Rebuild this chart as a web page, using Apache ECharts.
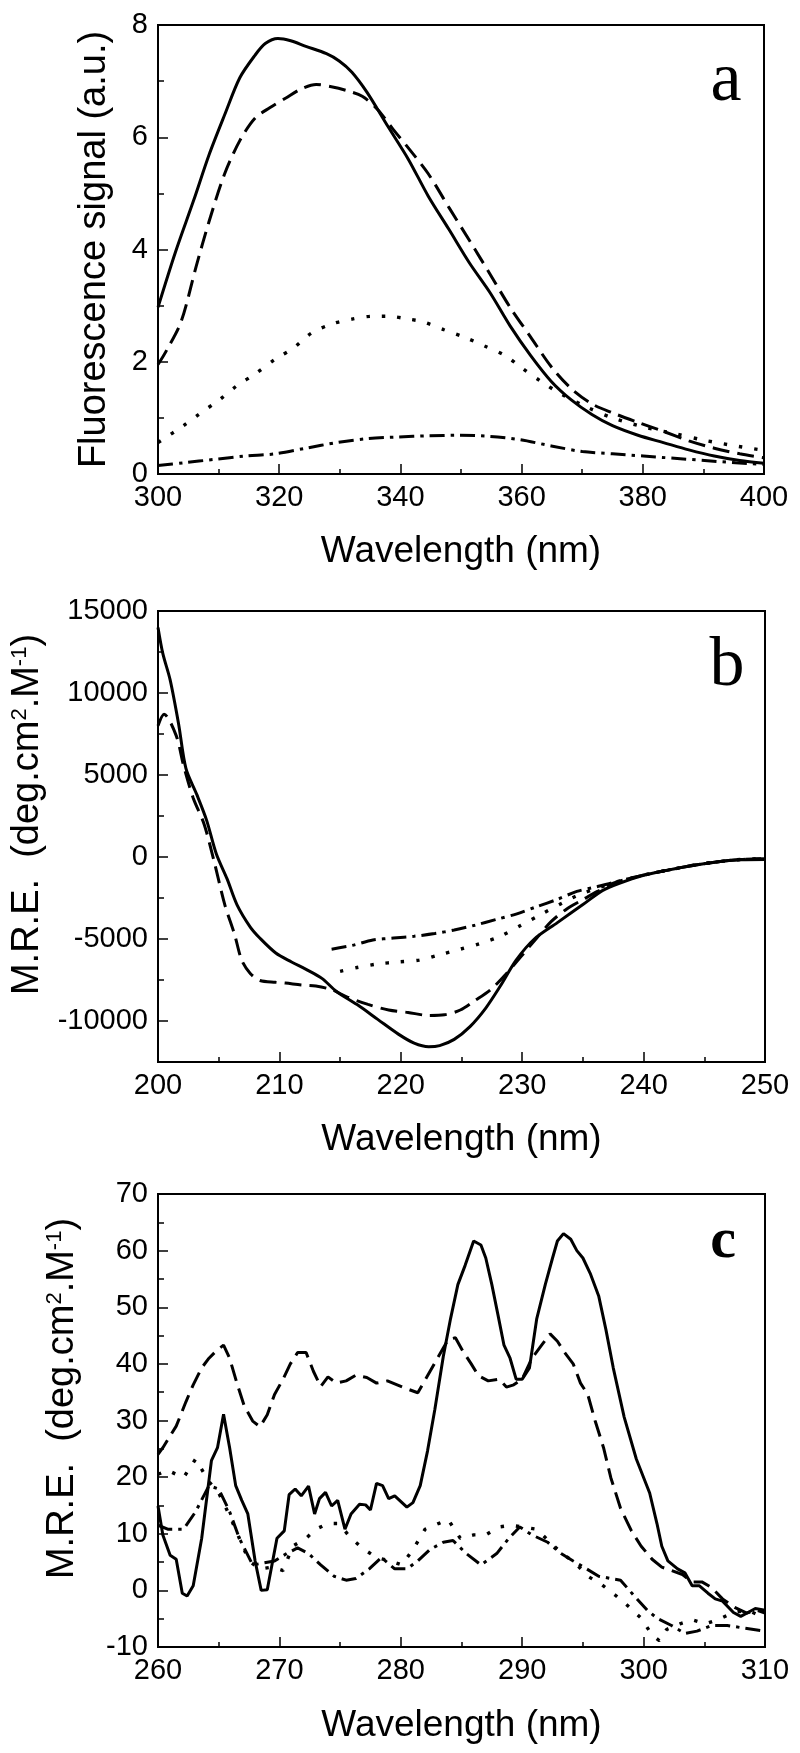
<!DOCTYPE html>
<html><head><meta charset="utf-8">
<script src="https://cdn.jsdelivr.net/npm/echarts@6/dist/echarts.min.js"></script>
<style>html,body{margin:0;padding:0;background:#fff}#c{width:800px;height:1753px}</style>
</head><body><div id="c"></div>
<script>
// ---------- Panel a : fluorescence ----------
const aXTicks = [300, 320, 340, 360, 380, 400];
const aYTicks = [0, 2, 4, 6, 8];
const aSolid = [[300,2.97],[302.9,3.96],[305.9,4.88],[308.4,5.68],[311,6.40],[313.5,7.06],[316,7.46],[317.7,7.67],[319.8,7.76],[321.9,7.72],[324.4,7.62],[327.8,7.49],[329.9,7.36],[332,7.16],[334.5,6.80],[337.9,6.20],[341.3,5.61],[344.6,4.95],[348,4.36],[351.4,3.76],[354.8,3.23],[358.1,2.64],[361.5,2.11],[364.9,1.65],[368.2,1.32],[371.6,1.06],[375,0.86],[379.2,0.69],[383.4,0.56],[387.6,0.43],[391.8,0.32],[396,0.24],[400,0.19]];
const aDashed = [[300,1.95],[301.3,2.18],[303.8,2.71],[306.3,3.7],[308.4,4.49],[311,5.35],[313.5,5.94],[316,6.34],[318.5,6.53],[321.1,6.70],[323.6,6.86],[326.1,6.94],[328.6,6.9],[331.2,6.83],[333.7,6.73],[336.2,6.50],[338.8,6.14],[341.3,5.81],[344.6,5.35],[348,4.75],[351.4,4.16],[354.8,3.56],[358.1,2.97],[361.5,2.44],[364.9,1.91],[368.2,1.52],[371.6,1.25],[375,1.09],[379.2,0.92],[383.4,0.76],[387.6,0.59],[391.8,0.46],[396,0.36],[400,0.29]];
const aDotted = [[300,0.56],[304.2,0.86],[306.7,1.06],[310.1,1.32],[313.1,1.58],[316,1.78],[319.4,2.05],[322.3,2.24],[325.3,2.51],[328.6,2.67],[332,2.76],[335.4,2.81],[337.9,2.81],[341.3,2.76],[343.8,2.71],[347.2,2.57],[350.5,2.44],[353.9,2.28],[357.3,2.11],[359.8,1.91],[363.2,1.65],[366.6,1.42],[370.8,1.19],[375,1.0],[380.1,0.84],[385.2,0.72],[390.2,0.60],[395.3,0.50],[400,0.42]];
const aDashDot = [[300,0.15],[304.2,0.2],[309.3,0.26],[314.3,0.32],[319.4,0.36],[324.4,0.46],[329.5,0.56],[334.5,0.63],[339.6,0.66],[344.6,0.68],[349.7,0.69],[354.8,0.67],[359.8,0.61],[364.9,0.50],[370,0.40],[375,0.36],[380.1,0.32],[385.2,0.28],[390.2,0.24],[395.3,0.20],[400,0.17]];

// ---------- Panel b : far-UV CD ----------
const bXTicks = [200, 210, 220, 230, 240, 250];
const bYTicks = [-10000, -5000, 0, 5000, 10000, 15000];
const bYMinorTicks = [-12500, -7500, -2500, 2500, 7500, 12500];
const bSolid = [[200,14000],[200.4,12400],[201,10800],[201.7,8100],[202.3,5400],[203.2,3800],[204,2250],[204.8,200],[205.7,-1350],[206.5,-2900],[207.6,-4270],[208.4,-4950],[209.7,-5850],[211,-6400],[212.2,-6850],[213.5,-7400],[214.7,-8200],[216.4,-9000],[218.1,-9900],[219.8,-10800],[221.1,-11350],[222.3,-11570],[223.2,-11500],[224.4,-11120],[225.7,-10340],[227,-9210],[228.2,-7870],[229.5,-6290],[231,-5000],[232.9,-4000],[235,-2900],[236.6,-2050],[238,-1600],[240,-1120],[242,-800],[244,-520],[246,-300],[248,-170],[250,-150]];
const bDashed = [[200,8000],[200.5,8700],[201.5,7400],[202.1,5600],[202.9,3600],[203.8,2000],[204.6,-200],[205.5,-2900],[206.3,-4700],[206.9,-6300],[207.6,-7100],[208.4,-7530],[209.7,-7640],[210.5,-7690],[211.8,-7800],[213,-7870],[214.3,-8090],[215.6,-8540],[217.3,-8990],[219,-9330],[220.6,-9480],[222.3,-9660],[223.6,-9620],[224.9,-9330],[226.1,-8760],[227.4,-8090],[228.6,-7190],[229.9,-6070],[231.2,-4940],[232.4,-3930],[233.7,-3150],[235,-2600],[236.2,-2100],[237.5,-1600],[240,-1100],[242,-800],[244,-520],[246,-300],[248,-150],[250,-100]];
const bDotted = [[215,-6970],[216.4,-6740],[218.1,-6520],[219.8,-6400],[221.5,-6290],[223.2,-5960],[224.9,-5620],[226.5,-5280],[228.2,-4830],[229.9,-4160],[231.6,-3480],[233.3,-2810],[234.5,-2360],[236.2,-1900],[237.5,-1600],[240,-1100],[242,-800],[244,-520],[246,-300],[248,-150],[250,-100]];
const bDashDot = [[214.3,-5620],[216,-5390],[217.7,-5060],[219.4,-4940],[221.1,-4830],[222.8,-4670],[224.4,-4450],[226.1,-4160],[227.8,-3820],[229.5,-3480],[231.2,-3030],[232.9,-2580],[234.5,-2100],[236.2,-1800],[237.5,-1550],[240,-1100],[242,-800],[244,-520],[246,-300],[248,-150],[250,-100]];

// ---------- Panel c : near-UV CD ----------
const cXTicks = [260, 270, 280, 290, 300, 310];
const cYTicks = [-10, 0, 10, 20, 30, 40, 50, 60, 70];
const cSolid = [[260,14.9],[260.4,9.8],[261,6.2],[261.5,5.5],[262,-0.5],[262.4,-1.0],[262.9,0.8],[263.6,9.2],[264.4,22.9],[264.9,25.2],[265.4,31.1],[265.9,25.2],[266.4,18.5],[266.9,15.9],[267.4,13.5],[268,5.2],[268.5,0],[269,0.1],[269.8,9.2],[270.4,10.5],[270.8,16.9],[271.3,17.9],[271.8,16.7],[272.4,18.4],[272.9,13.5],[273.3,16.2],[273.8,17.3],[274.3,14.9],[274.8,15.9],[275.4,10.8],[275.9,13.5],[276.6,15.2],[277.1,15.1],[277.5,14.2],[278,18.9],[278.5,18.5],[279,16.2],[279.5,16.7],[280.1,15.5],[280.5,14.7],[281,15.5],[281.6,18.5],[282.2,24.6],[282.8,31.9],[283.5,41.3],[284.1,48.0],[284.7,54.0],[285.3,57.4],[286,61.7],[286.6,61.0],[287,58.7],[287.5,54.0],[288,48.7],[288.5,43.3],[289,41.0],[289.5,37.3],[290,37.3],[290.6,39.3],[291.2,48.0],[291.9,54.0],[292.5,58.7],[292.9,61.7],[293.4,63.0],[294,62.0],[294.5,60.0],[295,58.7],[295.6,56.0],[296.3,52.0],[296.9,46.0],[297.5,39.3],[298.4,30.6],[299.4,23.2],[300.5,17.2],[301.1,11.8],[301.5,7.8],[302,5.2],[302.8,3.8],[303.4,3.1],[304,0.8],[304.6,0.8],[305.3,-0.5],[305.9,-1.5],[306.5,-1.9],[307.4,-3.9],[308,-4.6],[308.6,-3.9],[309.2,-3.2],[310,-3.5]];
const cDashed = [[260,24],[260.4,25.2],[261.5,29],[262.3,33.3],[262.9,36.3],[263.6,39.3],[264.2,41],[264.8,42.3],[265.4,43.3],[265.9,41],[266.5,36.6],[267.1,32.6],[267.8,29.9],[268.4,28.9],[269,31],[269.6,34.6],[270.3,37.3],[270.9,40],[271.5,42],[272.2,42],[272.8,38.7],[273.4,36],[274,37.7],[274.7,36.6],[275.5,37],[276.3,38],[277.2,37.6],[278,36.6],[278.9,37],[279.7,36.3],[280.5,35.6],[281.4,34.9],[282.2,37.9],[283.1,41.3],[283.9,44.3],[284.5,44.6],[285.1,42.3],[285.8,40],[286.4,37.9],[287.2,37],[288.1,37.3],[288.7,35.9],[289.3,36.3],[290,37.3],[290.8,41],[291.6,43.3],[292.3,45.3],[292.9,44],[293.5,42],[294.2,40],[294.8,36.6],[295.4,34.6],[296,30],[296.7,25.2],[297.3,19.9],[298.1,14.5],[299,10.5],[299.8,7.8],[300.7,5.5],[301.5,4.1],[302.3,3.5],[303.2,2.8],[304,1.5],[304.8,1.5],[305.6,0.5],[306.5,-1.5],[307.5,-3],[308.5,-4],[309.3,-3.5],[310,-4]];
const cDotted = [[260,20.5],[260.8,21.2],[262.1,19.9],[263.1,23.2],[264.2,19.2],[265,17.2],[265.9,13.2],[266.7,9.2],[267.5,5.2],[268.4,3.8],[269.4,4.1],[270.3,3.5],[271.1,7.8],[272.2,9.2],[273,10.8],[274,11.8],[274.9,11.8],[275.9,9.2],[277,7.2],[278,5.8],[279.1,5.2],[280.1,4.5],[281,7.2],[282,10.8],[283.1,11.8],[283.9,12.5],[284.9,9.2],[286,9.8],[287,9.8],[288.1,11.2],[289.1,11.5],[290,11.2],[291.2,10.8],[292.3,8.5],[293.3,6.5],[294.4,4.8],[295.4,2.5],[296.5,1.1],[297.7,-0.9],[298.8,-2.9],[299.8,-4.9],[300.7,-7.9],[301.3,-8.9],[301.9,-6.9],[303,-5.9],[304,-5.2],[305.1,-5.9],[306.1,-5.2],[307.4,-3.9],[308.6,-3.5],[310,-4.9]];
const cDashDot = [[260,11.5],[260.8,10.8],[262.1,10.8],[263.1,13.9],[264.2,18.5],[265,17.9],[265.9,13.9],[266.7,9.2],[267.8,4.5],[268.6,4.8],[269.6,5.2],[270.6,6.5],[271.5,7.5],[272.4,6.5],[273.4,4.5],[274.5,2.5],[275.5,1.8],[276.3,2.1],[277.4,3.8],[278.4,5.8],[279.5,3.8],[280.5,3.8],[281.4,5.2],[282.4,7.2],[283.5,8.5],[284.3,8.8],[285.4,6.5],[286.6,4.5],[287.9,6.5],[288.9,9.2],[289.8,11.2],[290.8,9.8],[292.1,8.5],[293.2,6.5],[294.2,5.2],[295.3,3.8],[296.3,2.5],[297.3,2.1],[298.1,1.8],[299.2,-0.9],[300.3,-3.5],[301.1,-4.9],[302.3,-6.2],[303.4,-7.6],[304.4,-7.2],[305.6,-6.2],[306.9,-6.2],[308.1,-6.6],[310,-7.2]];

// ---------- styling helpers ----------
const FONT = 'Liberation Sans, Arial, sans-serif';
const axLine = { show: true, onZero: false, lineStyle: { color: '#000', width: 2 } };
const tickStyle = { color: '#000', width: 1.5 };

function xAxisDef(gi, min, max, step, ticks, gap) {
  return {
    type: 'value', gridIndex: gi, min: min, max: max, interval: step, position: 'bottom',
    axisLine: axLine,
    axisTick: { show: true, inside: true, length: 10, lineStyle: tickStyle },
    minorTick: { show: true, splitNumber: 2, length: 5, lineStyle: tickStyle },
    splitLine: { show: false }, minorSplitLine: { show: false },
    axisLabel: { customValues: ticks, formatter: v => String(v), color: '#000', fontSize: 29, fontFamily: FONT, margin: 9 },
    name: 'Wavelength (nm)', nameLocation: 'middle', nameGap: gap,
    nameTextStyle: { color: '#000', fontSize: 37, fontFamily: FONT }
  };
}
function yAxisDef(gi, min, max, step, ticks, name, gap, minor, shift) {
  return {
    type: 'value', gridIndex: gi, min: min, max: max, interval: step, position: 'left',
    axisLine: axLine,
    axisTick: { show: true, inside: true, length: 10, customValues: ticks, lineStyle: tickStyle },
    minorTick: { show: minor, splitNumber: 2, length: 6, lineStyle: tickStyle },
    splitLine: { show: false }, minorSplitLine: { show: false },
    axisLabel: { customValues: ticks, formatter: v => (ticks.indexOf(v) >= 0 ? String(v) : ''), color: '#000', fontSize: 29, fontFamily: FONT, margin: 10 },
    name: name, nameLocation: 'middle', nameGap: gap,
    nameTextStyle: {
      color: '#000', fontSize: 38, fontFamily: FONT, padding: [0, 0, 0, shift],
      rich: { sup: { fontSize: 22, fontFamily: FONT, color: '#000', verticalAlign: 'top' } }
    }
  };
}
const mreName = 'M.R.E.  (deg.cm{sup|2}.M{sup|-1})';

const STY = {
  solid: { color: '#000', width: 3, type: 'solid' },
  dashed: { color: '#000', width: 3, type: [17, 8] },
  dotted: { color: '#000', width: 3.4, type: [3.4, 12] },
  dashdot: { color: '#000', width: 3, type: [15, 6, 3.4, 6] }
};
function line(data, xi, yi, sty, smooth) {
  return { type: 'line', xAxisIndex: xi, yAxisIndex: yi, data: data, showSymbol: false, symbol: 'none',
    smooth: smooth, lineStyle: sty, silent: true, animation: false };
}

const grids = [
  { left: 158, top: 25, width: 606, height: 449 },
  { left: 158, top: 611, width: 607, height: 451 },
  { left: 158, top: 1194, width: 607, height: 453 }
].map(g => Object.assign(g, { show: true, borderColor: '#000', borderWidth: 2, backgroundColor: 'transparent' }));

const bMinorAxis = {
  type: 'value', gridIndex: 1, min: -12500, max: 15000, interval: 2500, position: 'left',
  axisLine: { show: false }, splitLine: { show: false },
  axisLabel: { show: false },
  axisTick: { show: true, inside: true, length: 6, customValues: bYMinorTicks, lineStyle: tickStyle }
};

const option = {
  backgroundColor: '#fff',
  animation: false,
  grid: grids,
  xAxis: [
    xAxisDef(0, 300, 400, 20, aXTicks, 59),
    xAxisDef(1, 200, 250, 10, bXTicks, 59),
    xAxisDef(2, 260, 310, 10, cXTicks, 60)
  ],
  yAxis: [
    yAxisDef(0, 0, 8, 2, aYTicks, 'Fluorescence signal (a.u.)', 44, true, 0),
    yAxisDef(1, -12500, 15000, 2500, bYTicks, mreName, 100, false, 44),
    bMinorAxis,
    yAxisDef(2, -10, 70, 10, cYTicks, mreName, 76, true, 44)
  ],
  series: [
    line(aSolid, 0, 0, STY.solid, 0.3),
    line(aDashed, 0, 0, STY.dashed, 0.3),
    line(aDotted, 0, 0, STY.dotted, 0.3),
    line(aDashDot, 0, 0, STY.dashdot, 0.3),
    line(bSolid, 1, 1, STY.solid, 0.3),
    line(bDashed, 1, 1, STY.dashed, 0.3),
    line(bDotted, 1, 1, STY.dotted, 0.3),
    line(bDashDot, 1, 1, STY.dashdot, 0.3),
    line(cSolid, 2, 3, STY.solid, false),
    line(cDashed, 2, 3, STY.dashed, false),
    line(cDotted, 2, 3, STY.dotted, false),
    line(cDashDot, 2, 3, STY.dashdot, false)
  ],
  graphic: [
    { type: 'text', x: 726, y: 82, style: { text: 'a', fontSize: 70, fontFamily: 'Liberation Serif, Times New Roman, serif', fill: '#000', align: 'center', verticalAlign: 'middle' } },
    { type: 'text', x: 727, y: 667, style: { text: 'b', fontSize: 70, fontFamily: 'Liberation Serif, Times New Roman, serif', fill: '#000', align: 'center', verticalAlign: 'middle' } },
    { type: 'text', x: 723, y: 1242, style: { text: 'c', fontSize: 58, fontWeight: 'bold', fontFamily: 'Liberation Serif, Times New Roman, serif', fill: '#000', align: 'center', verticalAlign: 'middle' } }
  ]
};
const chart = echarts.init(document.getElementById('c'), null, { renderer: 'canvas' });
chart.setOption(option);
</script>
</body></html>
